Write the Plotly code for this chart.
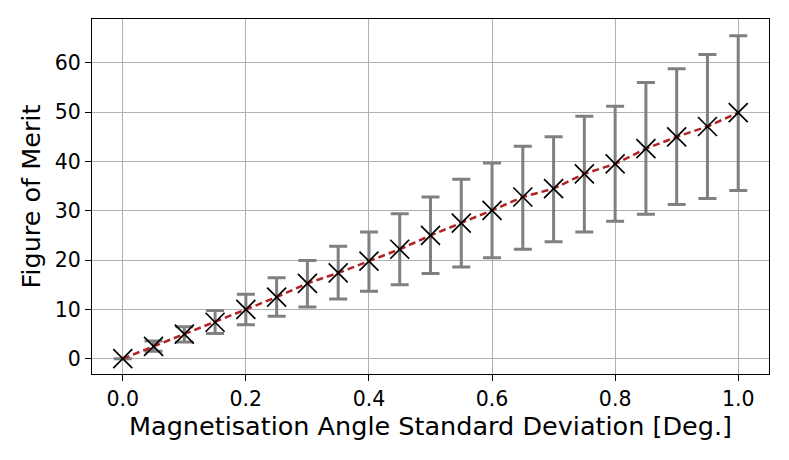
import plotly.graph_objects as go

angle_std = [0.0, 0.05, 0.10, 0.15, 0.20, 0.25, 0.30, 0.35, 0.40, 0.45, 0.50,
             0.55, 0.60, 0.65, 0.70, 0.75, 0.80, 0.85, 0.90, 0.95, 1.00]
fom_mean = [0.0, 2.5, 5.0, 7.4, 10.0, 12.5, 15.3, 17.4, 19.8, 22.2, 25.0,
            27.5, 30.1, 32.8, 34.5, 37.5, 39.5, 42.6, 45.0, 47.1, 49.9]
fom_err_plus = [0.0, 1.1, 1.5, 2.4, 3.1, 3.9, 4.6, 5.4, 5.9, 7.2, 7.8,
                8.9, 9.6, 10.3, 10.5, 11.7, 11.7, 13.4, 13.8, 14.6, 15.6]
fom_err_minus = [0.0, 1.0, 1.6, 2.3, 3.1, 3.9, 4.8, 5.3, 6.1, 7.2, 7.7,
                 8.9, 9.6, 10.6, 10.8, 11.8, 11.6, 13.3, 13.7, 14.6, 15.8]

x_ticks = [0.0, 0.2, 0.4, 0.6, 0.8, 1.0]
y_ticks = [0, 10, 20, 30, 40, 50, 60]

fig = go.Figure()

# error bars
fig.add_trace(go.Scatter(
    x=angle_std, y=fom_mean, mode="markers",
    marker=dict(size=1, color="rgba(0,0,0,0)"),
    error_y=dict(type="data", symmetric=False, array=fom_err_plus,
                 arrayminus=fom_err_minus, color="#808080",
                 thickness=3, width=9),
    showlegend=False, hoverinfo="skip"))

# dashed line
fig.add_trace(go.Scatter(
    x=angle_std, y=fom_mean, mode="lines",
    line=dict(color="#b22222", width=2.5, dash="7px,4px"),
    showlegend=False))

# markers
fig.add_trace(go.Scatter(
    x=angle_std, y=fom_mean, mode="markers",
    marker=dict(symbol="x-thin", size=19, color="black",
                line=dict(color="black", width=1.7)),
    showlegend=False))

axis_common = dict(
    showline=True, linecolor="black", linewidth=1.2, mirror=True,
    ticks="outside", ticklen=6, tickwidth=1.2, tickcolor="black",
    showgrid=True, gridcolor="#b0b0b0", gridwidth=1,
    zeroline=False,
    tickfont=dict(family="DejaVu Sans", size=20.5, color="black"),
)

fig.update_layout(
    width=789, height=460,
    margin=dict(l=92, r=20, t=19, b=86, autoexpand=False),
    paper_bgcolor="white", plot_bgcolor="white",
    font=dict(family="DejaVu Sans", color="black"),
    xaxis=dict(range=[-0.05, 1.05], tickvals=x_ticks, tickformat=".1f",
               title=dict(text="Magnetisation Angle Standard Deviation [Deg.]",
                          font=dict(family="DejaVu Sans", size=25.5, color="black"),
                          standoff=5),
               automargin=False,
               **axis_common),
    yaxis=dict(range=[-3.1, 68.9], tickvals=y_ticks,
               title=dict(text="Figure of Merit",
                          font=dict(family="DejaVu Sans", size=25.5, color="black"),
                          standoff=6),
               automargin=False,
               **axis_common),
)

fig.write_html("out.html", config={"displayModeBar": False},
               post_script="document.body.style.margin='0';")
